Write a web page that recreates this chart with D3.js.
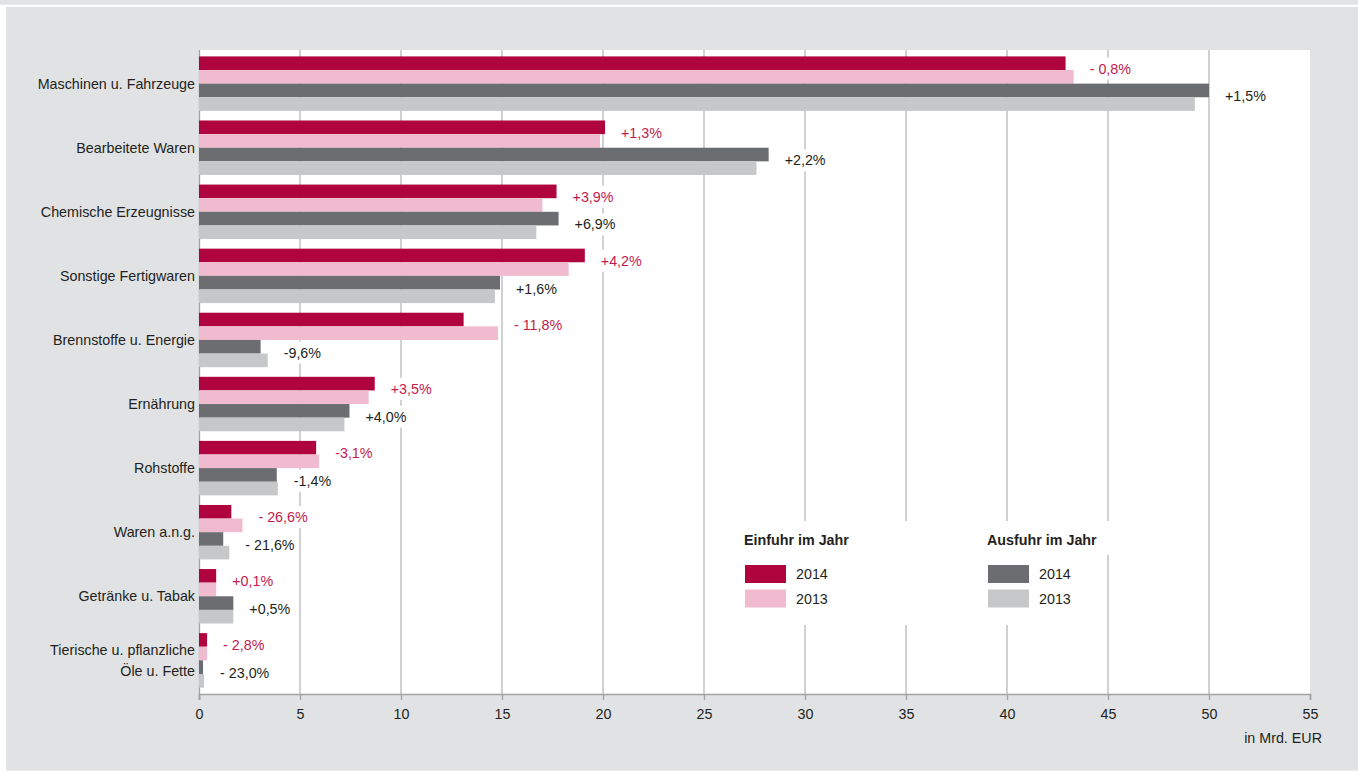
<!DOCTYPE html>
<html>
<head>
<meta charset="utf-8">
<script src="https://cdn.jsdelivr.net/npm/d3@7"></script>
<style>
  html, body { margin: 0; padding: 0; background: #ffffff; }
</style>
</head>
<body>
<script>
// Außenhandel nach Warengruppen, in Mrd. EUR
const categories = [
  "Maschinen u. Fahrzeuge",
  "Bearbeitete Waren",
  "Chemische Erzeugnisse",
  "Sonstige Fertigwaren",
  "Brennstoffe u. Energie",
  "Ernährung",
  "Rohstoffe",
  "Waren a.n.g.",
  "Getränke u. Tabak",
  "Tierische u. pflanzliche\nÖle u. Fette"
];
const import2014 = [42.9, 20.1, 17.7, 19.1, 13.1, 8.7, 5.8, 1.6, 0.85, 0.4];
const import2013 = [43.3, 19.85, 17.0, 18.3, 14.8, 8.4, 5.95, 2.15, 0.85, 0.4];
const export2014 = [50.0, 28.2, 17.8, 14.9, 3.05, 7.45, 3.85, 1.2, 1.7, 0.2];
const export2013 = [49.3, 27.6, 16.7, 14.65, 3.4, 7.2, 3.9, 1.5, 1.7, 0.25];
const importChange = ["- 0,8%", "+1,3%", "+3,9%", "+4,2%", "- 11,8%", "+3,5%", "-3,1%", "- 26,6%", "+0,1%", "- 2,8%"];
const exportChange = ["+1,5%", "+2,2%", "+6,9%", "+1,6%", "-9,6%", "+4,0%", "-1,4%", "- 21,6%", "+0,5%", "- 23,0%"];
const xTicks = [0, 5, 10, 15, 20, 25, 30, 35, 40, 45, 50, 55];
const gridTicks = [5, 10, 15, 20, 25, 30, 35, 40, 45, 50];
const legendGroups = [
  { title: "Einfuhr im Jahr", years: ["2014", "2013"], keys: ["imp14", "imp13"] },
  { title: "Ausfuhr im Jahr", years: ["2014", "2013"], keys: ["exp14", "exp13"] }
];

const colors = {
  imp14: "#b0043e",
  imp13: "#f0bbce",
  exp14: "#6c6d70",
  exp13: "#c6c7c9"
};
const panelBg = "#e1e2e4";
const gridColor = "#a3a3a3";
const textColor = "#231f20";
const redText = "#c41a4e";
const font = "'Liberation Sans', Arial, Helvetica, sans-serif";
const fontSize = "14.3px";

const width = 1358;
const height = 771;
const margin = { top: 50, right: 48, bottom: 77, left: 199 };
const innerW = 1310 - margin.left;
const innerH = height - margin.top - margin.bottom;

const rows = categories.map((c, i) => ({
  name: c,
  imp14: import2014[i],
  imp13: import2013[i],
  exp14: export2014[i],
  exp13: export2013[i],
  impLabel: importChange[i],
  expLabel: exportChange[i]
}));

const svg = d3.select("body").append("svg")
  .attr("width", width)
  .attr("height", height)
  .style("display", "block")
  .style("font-family", font);

// Hintergrund
svg.append("rect").attr("x", 0).attr("y", 0).attr("width", width).attr("height", 4.7).attr("fill", panelBg);
svg.append("rect").attr("x", 6).attr("y", 6.8).attr("width", width - 6).attr("height", 770.6 - 6.8).attr("fill", panelBg);

const g = svg.append("g")
  .attr("transform", `translate(${margin.left},${margin.top})`);

g.append("rect")
  .attr("x", 0).attr("y", 0)
  .attr("width", innerW).attr("height", innerH)
  .attr("fill", "#ffffff");

const x = d3.scaleLinear()
  .domain([0, 55])
  .range([0, innerW]);

const y = d3.scaleBand()
  .domain(categories)
  .range([0, innerH])
  .paddingInner(0.15)
  .paddingOuter(0.1);

const keys = ["imp14", "imp13", "exp14", "exp13"];
const ySub = d3.scaleBand()
  .domain(keys)
  .range([0, y.bandwidth()]);

// Gitterlinien
g.append("g")
  .selectAll("line")
  .data(gridTicks)
  .join("line")
  .attr("x1", d => x(d)).attr("x2", d => x(d))
  .attr("y1", 0).attr("y2", innerH)
  .attr("stroke", gridColor)
  .attr("stroke-width", 1);

// y-Achsenlinie
g.append("line")
  .attr("x1", 0.5).attr("x2", 0.5)
  .attr("y1", 0).attr("y2", innerH + 6)
  .attr("stroke", gridColor)
  .attr("stroke-width", 1.3);

// Balken
const groups = g.append("g")
  .selectAll("g")
  .data(rows)
  .join("g")
  .attr("transform", d => `translate(0,${y(d.name)})`);

groups.selectAll("rect")
  .data(d => keys.map(k => ({ key: k, value: d[k] })))
  .join("rect")
  .attr("x", x(0))
  .attr("y", d => ySub(d.key))
  .attr("height", ySub.bandwidth())
  .attr("width", d => x(d.value) - x(0))
  .attr("fill", d => colors[d.key]);

// Veränderungen
const labelLayer = g.append("g").style("font-size", fontSize);

function addLabel(px, py, txt, fill) {
  const t = labelLayer.append("text")
    .attr("x", px)
    .attr("y", py)
    .attr("dy", "0.35em")
    .attr("fill", fill)
    .text(txt);
  const bb = t.node().getBBox();
  labelLayer.insert("rect", () => t.node())
    .attr("x", bb.x - 3)
    .attr("y", py - 11)
    .attr("width", bb.width + 6)
    .attr("height", 22)
    .attr("fill", "#ffffff");
}

rows.forEach(d => {
  const top = y(d.name);
  const impEnd = x(Math.max(d.imp14, d.imp13));
  const expEnd = x(Math.max(d.exp14, d.exp13));
  addLabel(impEnd + 16, top + ySub("imp13") - 1.5, d.impLabel, redText);
  addLabel(expEnd + 16, top + ySub("exp13") - 1, d.expLabel, textColor);
});

// Kategorien
const catLabels = g.append("g")
  .selectAll("text")
  .data(rows)
  .join("text")
  .attr("x", -4)
  .attr("y", d => y(d.name) + y.bandwidth() / 2)
  .attr("text-anchor", "end")
  .attr("fill", textColor)
  .style("font-size", fontSize);

catLabels.each(function(d) {
  const lines = d.name.split("\n");
  const sel = d3.select(this);
  lines.forEach((line, i) => {
    sel.append("tspan")
      .attr("x", -4)
      .attr("dy", i === 0 ? `${0.35 - (lines.length - 1) * 0.73}em` : "1.46em")
      .text(line);
  });
});

// x-Achse
const xAxis = d3.axisBottom(x)
  .tickValues(xTicks)
  .tickSize(6)
  .tickPadding(9)
  .tickFormat(d3.format("d"));

g.append("g")
  .attr("transform", `translate(0,${innerH})`)
  .call(xAxis)
  .call(sel => sel.select(".domain").attr("stroke", gridColor).attr("stroke-width", 1.6))
  .call(sel => sel.selectAll(".tick line").attr("stroke", gridColor).attr("stroke-width", 1.3))
  .call(sel => sel.selectAll("text")
    .attr("fill", textColor)
    .style("font-size", fontSize)
    .style("font-family", font));

g.append("text")
  .attr("x", innerW + 12)
  .attr("y", innerH + 44)
  .attr("dy", "0.35em")
  .attr("text-anchor", "end")
  .attr("fill", textColor)
  .style("font-size", fontSize)
  .text("in Mrd. EUR");

// Legende
const legend = svg.append("g");
legend.append("rect")
  .attr("x", 715).attr("y", 521)
  .attr("width", 388).attr("height", 104)
  .attr("fill", "#ffffff");
legend.append("rect")
  .attr("x", 980).attr("y", 521)
  .attr("width", 132).attr("height", 34)
  .attr("fill", "#ffffff");

legendGroups.forEach((lg, gi) => {
  const lx = 744 + gi * 243;
  legend.append("text")
    .attr("x", lx)
    .attr("y", 540)
    .attr("dy", "0.35em")
    .attr("fill", textColor)
    .style("font-size", fontSize)
    .style("font-weight", "bold")
    .text(lg.title);
  lg.keys.forEach((k, i) => {
    const ly = 565 + i * 24.5;
    legend.append("rect")
      .attr("x", lx + 1)
      .attr("y", ly)
      .attr("width", 41)
      .attr("height", 18)
      .attr("fill", colors[k]);
    legend.append("text")
      .attr("x", lx + 52)
      .attr("y", ly + 9)
      .attr("dy", "0.35em")
      .attr("fill", textColor)
      .style("font-size", fontSize)
      .text(lg.years[i]);
  });
});
</script>
</body>
</html>
